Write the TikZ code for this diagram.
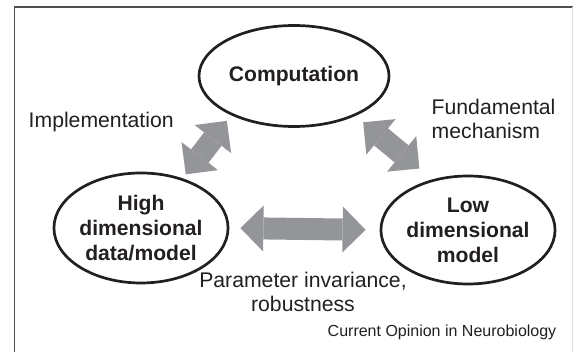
\documentclass[tikz,border=0pt]{standalone}
\usepackage{fontspec}
\setmainfont{Liberation Sans}
\usetikzlibrary{shapes.geometric,arrows.meta}

\definecolor{inkblack}{RGB}{35,31,32}
\definecolor{arrowgray}{RGB}{148,149,153}
\definecolor{framegray}{RGB}{80,80,80}

\tikzset{
	field/.style={ellipse,draw=inkblack,line width=2.7pt,inner sep=0pt,align=center,text=inkblack,font=\bfseries\fontsize{21.1}{25}\selectfont},
	caption/.style={inner sep=0pt,text=inkblack,font=\fontsize{21.2}{24.5}\selectfont},
	link/.style={draw=arrowgray,line width=22pt,{Triangle[length=23pt 0 0,width=46pt 0 0,line width=0pt]}-{Triangle[length=23pt 0 0,width=46pt 0 0,line width=0pt]}}
}

\begin{document}
\begin{tikzpicture}[x=1pt,y=1pt]
			\useasboundingbox (0,0) rectangle (573,352);
			% frame
			\draw[framegray,line width=1.5pt] (14.5,0) -- (14.5,345) -- (573,345);
			\draw[black!12,line width=1pt] (572,345) -- (572,0);
			
			\node[field,minimum width=190pt,minimum height=101pt] (comp) at (294,276) {Computation};
			\node[field,minimum width=170pt,minimum height=110pt] (high) at (141,124) {High\\dimensional\\data/model};
			\node[field,minimum width=171pt,minimum height=108pt] (low) at (468,122) {Low\\dimensional\\model};
			
			\draw[link,shorten <=5pt,shorten >=7pt] (high.50) -- (comp.212);
			\draw[link,shorten <=10pt,shorten >=17pt] (comp.327) -- (low.125);
			\draw[link,shorten <=11pt,shorten >=14pt] (high.east) -- (low.west);
			
			\node[caption,anchor=base west] (impl) at (28.5,224.7) {Implementation};
			\node[caption,anchor=west,align=left] (fund) at (431.5,233.3) {Fundamental\\mechanism};
			\node[caption,align=center] (param) at (303,60.3) {Parameter invariance,\\robustness};
			\node[inner sep=0pt,anchor=base east,text=inkblack,font=\fontsize{16}{19}\selectfont] (journal) at (556.5,15) {Current Opinion in Neurobiology};
		\end{tikzpicture}
\end{document}
